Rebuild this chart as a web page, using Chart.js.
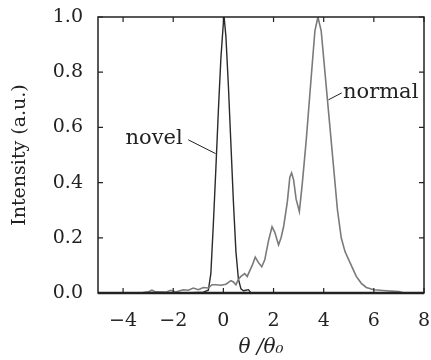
<!DOCTYPE html>
<html>
<head>
<meta charset="utf-8">
<script src="https://cdn.jsdelivr.net/npm/chart.js@4"></script>
<style>
  html, body { margin: 0; padding: 0; background: #fff; }
  #wrap { width: 431px; height: 360px; }
</style>
</head>
<body>
<div id="wrap"><canvas id="intensityChart"></canvas></div>
<script>
// theta / theta0 positions and intensities
var novelX = [-5, -3, -1.5, -0.8, -0.6, -0.5, -0.4, -0.3, -0.2, -0.1, 0, 0.03, 0.1, 0.2, 0.3, 0.4, 0.5, 0.6, 0.7, 0.8, 0.9, 1.0, 1.1, 8];
var novelY = [0, 0, 0, 0.003, 0.01, 0.07, 0.25, 0.45, 0.66, 0.85, 0.98, 1.0, 0.93, 0.75, 0.54, 0.33, 0.15, 0.05, 0.015, 0.008, 0.01, 0.012, 0, 0];

var normalX = [-5, -3.3, -3.0, -2.85, -2.7, -2.3, -2.1, -1.9, -1.6, -1.4, -1.2, -1.0, -0.8, -0.6, -0.45, -0.3, -0.1, 0.1, 0.3, 0.4, 0.5, 0.6, 0.7, 0.85, 0.95, 1.05, 1.15, 1.27, 1.4, 1.53, 1.65, 1.8, 1.94, 2.05, 2.2, 2.3, 2.4, 2.55, 2.65, 2.72, 2.8, 2.9, 3.03, 3.15, 3.3, 3.5, 3.65, 3.77, 3.9, 4.05, 4.2, 4.4, 4.55, 4.7, 4.85, 5.0, 5.15, 5.3, 5.5, 5.7, 6.0, 6.5, 7.0, 7.2, 8];
var normalY = [0, 0, 0.004, 0.01, 0.004, 0.003, 0.01, 0.004, 0.012, 0.01, 0.018, 0.012, 0.02, 0.018, 0.03, 0.03, 0.028, 0.032, 0.045, 0.04, 0.03, 0.05, 0.06, 0.07, 0.06, 0.08, 0.1, 0.13, 0.11, 0.095, 0.12, 0.19, 0.24, 0.22, 0.174, 0.2, 0.24, 0.33, 0.42, 0.435, 0.41, 0.34, 0.295, 0.4, 0.55, 0.78, 0.95, 1.0, 0.95, 0.8, 0.65, 0.45, 0.3, 0.2, 0.15, 0.12, 0.09, 0.06, 0.035, 0.02, 0.012, 0.008, 0.005, 0, 0];

var xTicks = [-4, -2, 0, 2, 4, 6, 8];
var yTicks = [0, 0.2, 0.4, 0.6, 0.8, 1.0];

function toPoints(xs, ys) {
    var pts = [];
    for (var i = 0; i < xs.length; i++) {
        pts.push({x: xs[i], y: ys[i]});
    }
    return pts;
}

var serif = "'DejaVu Serif', 'Liberation Serif', serif";

// frame, inward ticks and the two callout labels
var framePlugin = {
    id: 'frame',
    afterDraw: function (chart) {
        var ctx = chart.ctx;
        var a = chart.chartArea;
        var xs = chart.scales.x;
        var ys = chart.scales.y;
        ctx.save();
        ctx.strokeStyle = '#222';
        ctx.lineWidth = 1.5;
        ctx.strokeRect(a.left, a.top, a.right - a.left, a.bottom - a.top);
        ctx.lineWidth = 2.5;
        ctx.beginPath();
        ctx.moveTo(a.left, a.bottom);
        ctx.lineTo(a.right, a.bottom);
        ctx.stroke();

        ctx.lineWidth = 1.2;
        ctx.beginPath();
        xTicks.forEach(function (v) {
            var px = xs.getPixelForValue(v);
            ctx.moveTo(px, a.bottom);
            ctx.lineTo(px, a.bottom - 5);
            ctx.moveTo(px, a.top);
            ctx.lineTo(px, a.top + 5);
        });
        yTicks.forEach(function (v) {
            var py = ys.getPixelForValue(v);
            ctx.moveTo(a.left, py);
            ctx.lineTo(a.left + 5, py);
            ctx.moveTo(a.right, py);
            ctx.lineTo(a.right - 5, py);
        });
        ctx.stroke();

        // callouts
        ctx.fillStyle = '#222';
        ctx.font = '21px ' + serif;
        ctx.textBaseline = 'middle';
        ctx.textAlign = 'right';
        ctx.fillText('novel', xs.getPixelForValue(-1.62), ys.getPixelForValue(0.56));
        ctx.textAlign = 'left';
        ctx.fillText('normal', xs.getPixelForValue(4.77), ys.getPixelForValue(0.725));

        ctx.lineWidth = 1;
        ctx.beginPath();
        ctx.moveTo(xs.getPixelForValue(-1.4), ys.getPixelForValue(0.555));
        ctx.lineTo(xs.getPixelForValue(-0.31), ys.getPixelForValue(0.505));
        ctx.moveTo(xs.getPixelForValue(4.72), ys.getPixelForValue(0.725));
        ctx.lineTo(xs.getPixelForValue(4.19), ys.getPixelForValue(0.70));
        ctx.stroke();
        ctx.restore();
    }
};

var intensityChart = new Chart(document.getElementById('intensityChart'), {
    type: 'line',
    data: {
        datasets: [
            {
                label: 'normal',
                data: toPoints(normalX, normalY),
                borderColor: '#7a7a7a',
                borderWidth: 1.6,
                pointRadius: 0,
                tension: 0,
                fill: false
            },
            {
                label: 'novel',
                data: toPoints(novelX, novelY),
                borderColor: '#2a2a2a',
                borderWidth: 1.4,
                pointRadius: 0,
                tension: 0,
                fill: false
            }
        ]
    },
    options: {
        responsive: true,
        maintainAspectRatio: false,
        animation: false,
        layout: {padding: {top: 17, right: 7, left: 0, bottom: 0}},
        plugins: {
            legend: {display: false},
            tooltip: {enabled: false}
        },
        scales: {
            x: {
                type: 'linear',
                min: -5,
                max: 8,
                afterFit: function (scale) {
                    scale.height = 67;
                    scale.paddingLeft = 0;
                    scale.paddingRight = 0;
                },
                afterBuildTicks: function (scale) {
                    scale.ticks = xTicks.map(function (v) { return {value: v}; });
                },
                grid: {display: false, drawTicks: false},
                border: {display: false},
                ticks: {
                    color: '#222',
                    padding: 17,
                    maxRotation: 0,
                    font: {family: serif, size: 19},
                    callback: function (v) { return v < 0 ? '\u2212' + Math.abs(v) : String(v); }
                },
                title: {
                    display: true,
                    text: '\u03b8 /\u03b8\u2080',
                    color: '#222',
                    padding: {top: 0, bottom: 0},
                    font: {family: serif, size: 20, style: 'italic'}
                }
            },
            y: {
                min: 0,
                max: 1,
                afterFit: function (scale) {
                    scale.width = 98;
                    scale.paddingTop = 0;
                    scale.paddingBottom = 0;
                },
                afterBuildTicks: function (scale) {
                    scale.ticks = yTicks.map(function (v) { return {value: v}; });
                },
                grid: {display: false, drawTicks: false},
                border: {display: false},
                ticks: {
                    color: '#222',
                    padding: 15,
                    font: {family: serif, size: 19},
                    callback: function (v) { return v.toFixed(1); }
                },
                title: {
                    display: true,
                    text: 'Intensity (a.u.)',
                    color: '#222',
                    padding: {top: 9, bottom: 0},
                    font: {family: serif, size: 19}
                }
            }
        }
    },
    plugins: [framePlugin]
});
</script>
</body>
</html>
